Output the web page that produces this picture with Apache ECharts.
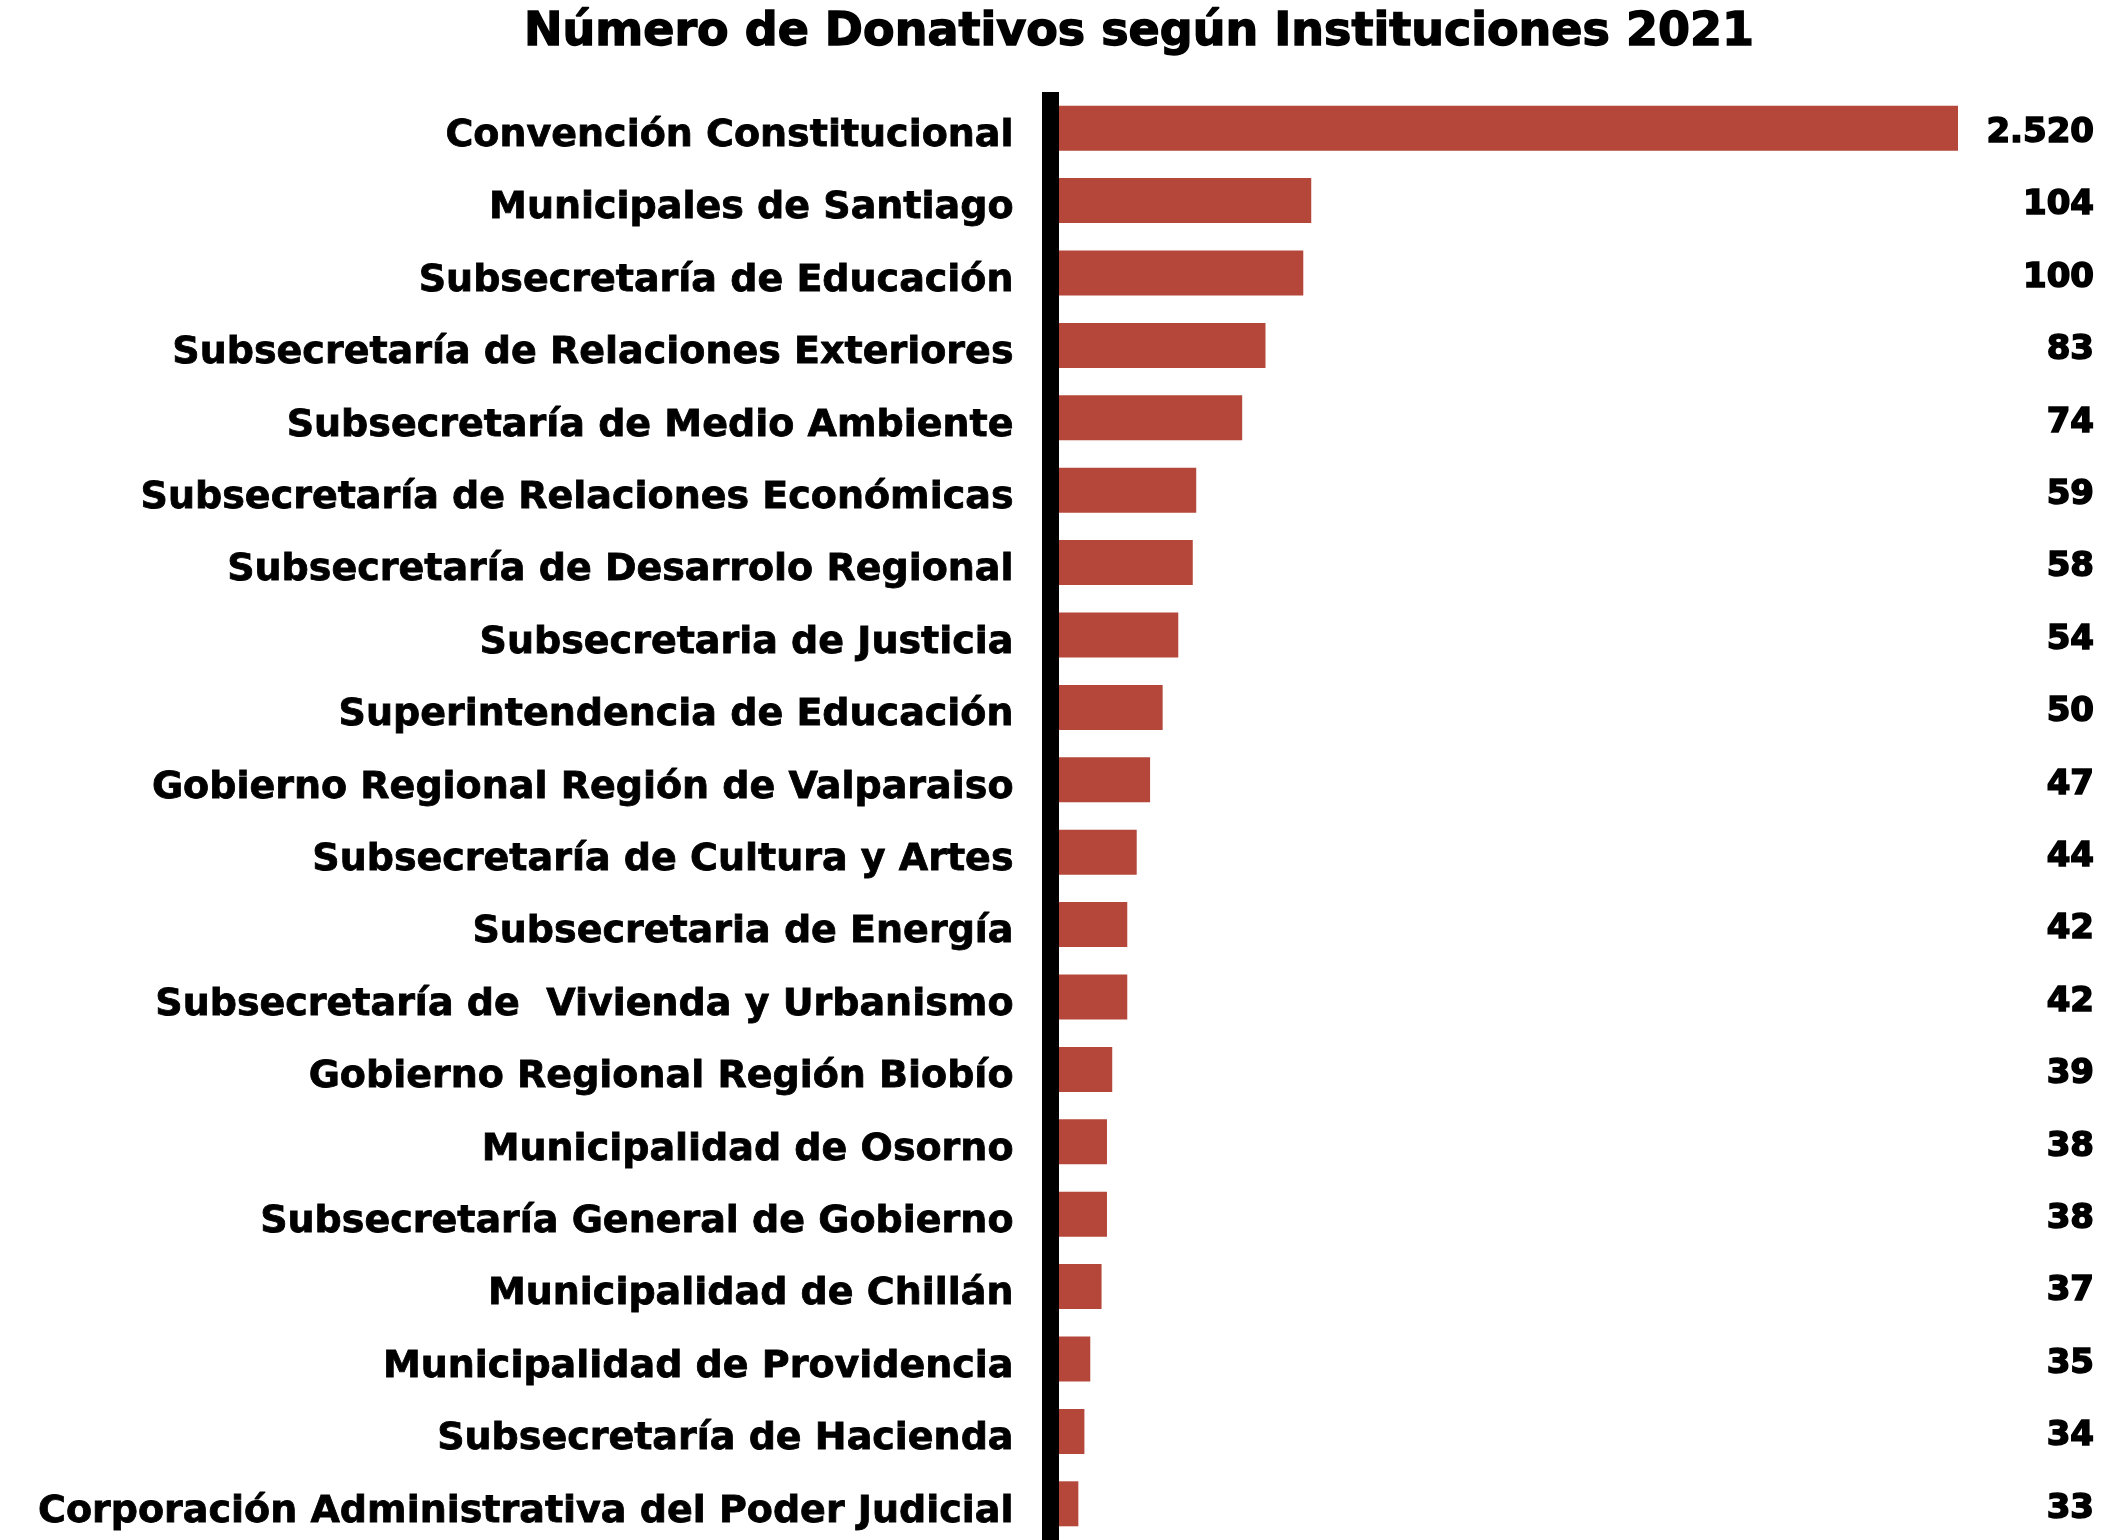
<!DOCTYPE html>
<html lang="es">

<head>
    <meta charset="UTF-8">
    <title>Número de Donativos según Instituciones 2021</title>
    <script src="https://cdn.jsdelivr.net/npm/echarts@6.0.0/dist/echarts.min.js"></script>
    <style>
        html, body { margin: 0; padding: 0; background: #fff; }
        #chart { width: 2122px; height: 1540px; }
    </style>
</head>

<body>
    <div id="chart"></div>

    <script>
        // instituciones, de mayor a menor
        const instituciones = [
            'Convención Constitucional',
            'Municipales de Santiago',
            'Subsecretaría de Educación',
            'Subsecretaría de Relaciones Exteriores',
            'Subsecretaría de Medio Ambiente',
            'Subsecretaría de Relaciones Económicas',
            'Subsecretaría de Desarrolo Regional',
            'Subsecretaria de Justicia',
            'Superintendencia de Educación',
            'Gobierno Regional Región de Valparaiso',
            'Subsecretaría de Cultura y Artes',
            'Subsecretaria de Energía',
            'Subsecretaría de  Vivienda y Urbanismo',
            'Gobierno Regional Región Biobío',
            'Municipalidad de Osorno',
            'Subsecretaría General de Gobierno',
            'Municipalidad de Chillán',
            'Municipalidad de Providencia',
            'Subsecretaría de Hacienda',
            'Corporación Administrativa del Poder Judicial'
        ];
        const donativos = [2520, 104, 100, 83, 74, 59, 58, 54, 50, 47, 44, 42, 42, 39, 38, 38, 37, 35, 34, 33];

        const fmt = v => v.toLocaleString('de-DE'); // 2.520
        const font = 'DejaVu Sans';

        const chart = echarts.init(document.getElementById('chart'));

        const option = {
            backgroundColor: '#fff',
            animation: false,
            title: {
                text: 'Número de Donativos según Instituciones 2021',
                left: 1134,
                textAlign: 'center',
                top: 5,
                textStyle: {
                    fontFamily: font,
                    fontWeight: 'bold',
                    fontSize: 46,
                    color: '#000',
                    textBorderColor: '#000',
                    textBorderWidth: 1.4
                }
            },
            grid: {
                left: 1059,
                right: 164,
                top: 92,
                bottom: 0,
                containLabel: false
            },
            xAxis: {
                type: 'log',
                min: 30,
                max: 2520,
                show: false
            },
            yAxis: [
                {
                    type: 'category',
                    data: instituciones,
                    inverse: true,
                    position: 'left',
                    offset: 8.5,
                    axisLine: { lineStyle: { color: '#000', width: 17, cap: 'butt' } },
                    axisTick: { show: false },
                    axisLabel: {
                        margin: 37,
                        verticalAlign: 'top',
                        lineHeight: 16,
                        fontFamily: font,
                        fontWeight: 'bold',
                        fontSize: 38,
                        color: '#000',
                        textBorderColor: '#000',
                        textBorderWidth: 0.8
                    }
                },
                {
                    type: 'category',
                    data: donativos.map(fmt),
                    inverse: true,
                    position: 'right',
                    axisLine: { show: false },
                    axisTick: { show: false },
                    axisLabel: {
                        margin: 136,
                        align: 'right',
                        verticalAlign: 'top',
                        lineHeight: 10,
                        fontFamily: font,
                        fontWeight: 'bold',
                        fontSize: 34,
                        color: '#000',
                        textBorderColor: '#000',
                        textBorderWidth: 1.6
                    }
                }
            ],
            series: [
                {
                    type: 'bar',
                    data: donativos,
                    barWidth: 45,
                    clip: true,
                    itemStyle: { color: '#b4463a' }
                }
            ]
        };
        chart.setOption(option);
    </script>
</body>

</html>
